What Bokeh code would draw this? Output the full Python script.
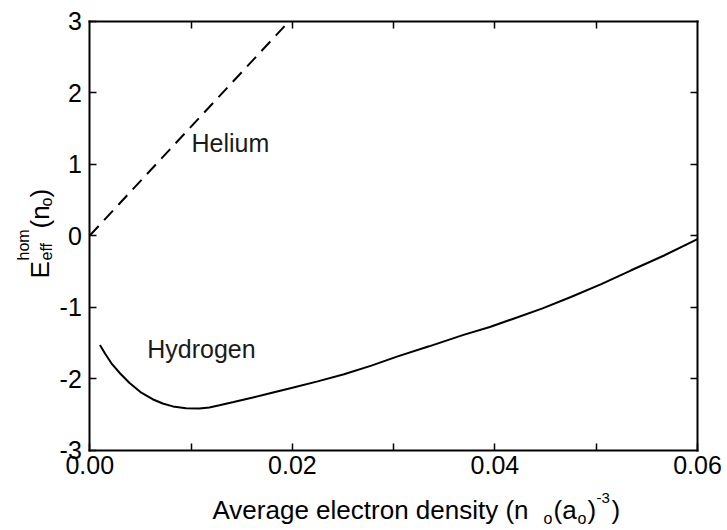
from bokeh.plotting import figure
from bokeh.models import Range1d, LinearAxis, FixedTicker, Label
from bokeh.embed import file_html
from bokeh.resources import INLINE
import math

# ---- data ----
helium_x = [0.0, 0.0197]
helium_y = [0.0, 3.0]

hydrogen_x = [0.0010, 0.0015, 0.0022, 0.0030, 0.0039, 0.0050, 0.0062, 0.0072,
              0.0082, 0.0095, 0.0108, 0.0118, 0.0128, 0.0142, 0.0160, 0.0180,
              0.0200, 0.0225, 0.0251, 0.0278, 0.0304, 0.0335, 0.0369, 0.0395,
              0.0419, 0.0447, 0.0475, 0.0505, 0.0534, 0.0567, 0.0600]
hydrogen_y = [-1.53, -1.65, -1.80, -1.93, -2.06, -2.19, -2.29, -2.35,
              -2.39, -2.415, -2.42, -2.405, -2.375, -2.33, -2.27, -2.20,
              -2.13, -2.04, -1.94, -1.82, -1.69, -1.55, -1.39, -1.28,
              -1.16, -1.02, -0.86, -0.68, -0.49, -0.28, -0.05]

x_major = [0.0, 0.02, 0.04, 0.06]
x_minor = [0.01, 0.03, 0.05]
x_labels = {0.0: "0.00", 0.02: "0.02", 0.04: "0.04", 0.06: "0.06"}
y_major = [-3, -2, -1, 0, 1, 2, 3]
y_labels = {v: str(v) for v in y_major}

FONT = "Liberation Sans"

# canvas size and where the plotting box sits on it (pixels)
W, H = 725, 528
BOX_L, BOX_R, BOX_T, BOX_B = 89.3, 697.0, 20.5, 449.5
XMIN, XMAX, YMIN, YMAX = 0.0, 0.06, -3.0, 3.0
sx = (BOX_R - BOX_L) / (XMAX - XMIN)
sy = (BOX_B - BOX_T) / (YMAX - YMIN)
x_range = Range1d(XMIN - BOX_L / sx, XMAX + (W - BOX_R) / sx)
y_range = Range1d(YMIN - (H - BOX_B) / sy, YMAX + BOX_T / sy)

p = figure(output_backend="svg", toolbar_location=None,
           width=W, height=H, min_border=0,
           x_range=x_range, y_range=y_range,
           x_axis_type=None, y_axis_type=None)
p.background_fill_color = "white"
p.border_fill_color = "white"
p.outline_line_color = None
p.xgrid.visible = False
p.ygrid.visible = False


def style(ax):
    ax.axis_line_color = "black"
    ax.axis_line_width = 2
    ax.axis_line_cap = "square"
    ax.major_tick_in = 7
    ax.major_tick_out = 0
    ax.minor_tick_in = 7
    ax.minor_tick_out = 0
    ax.major_tick_line_width = 1.5
    ax.minor_tick_line_width = 1.5
    ax.major_label_text_font = FONT
    ax.major_label_text_color = "black"
    ax.major_label_text_font_size = "25px"


xb = LinearAxis(ticker=FixedTicker(ticks=x_major, minor_ticks=x_minor),
                major_label_overrides=x_labels,
                fixed_location=YMIN, bounds=(XMIN, XMAX))
style(xb)
xb.major_label_standoff = 6
p.add_layout(xb, "below")

yl = LinearAxis(ticker=FixedTicker(ticks=y_major),
                major_label_overrides=y_labels,
                fixed_location=XMIN, bounds=(YMIN, YMAX))
style(yl)
yl.major_label_standoff = 8
p.add_layout(yl, "left")

xt = LinearAxis(ticker=FixedTicker(ticks=[], minor_ticks=x_minor + x_major[1:3]),
                fixed_location=YMAX, bounds=(XMIN, XMAX))
style(xt)
p.add_layout(xt, "above")

yr = LinearAxis(ticker=FixedTicker(ticks=[], minor_ticks=y_major[1:-1]),
                fixed_location=XMAX, bounds=(YMIN, YMAX))
style(yr)
p.add_layout(yr, "right")

p.line(hydrogen_x, hydrogen_y, line_color="black", line_width=2)
p.line(helium_x, helium_y, line_color="black", line_width=2, line_dash="13 8")

p.add_layout(Label(x=0.01004, y=1.095, text="Helium", text_font=FONT,
                   text_font_size="25px", text_color="#1a1a1a"))
p.add_layout(Label(x=0.00567, y=-1.786, text="Hydrogen", text_font=FONT,
                   text_font_size="25px", text_color="#1a1a1a"))


def piece(text, px, py, size, angle=0.0):
    # px, py: position on the canvas from its top-left corner
    p.add_layout(Label(x=px, y=H - py, x_units="screen", y_units="screen",
                       text=text, text_font=FONT, text_font_size=size,
                       angle=angle, text_align="left", text_baseline="alphabetic",
                       text_color="black"))


# x-axis title
piece("Average electron density (n", 212, 509, "26px")
piece("o", 543, 518, "16px")
piece("(a", 553, 509, "26px")
piece("o", 577, 518, "16px")
piece(")", 587, 509, "26px")
piece("-3", 596, 497, "15px")
piece(")", 611, 509, "26px")

# y-axis title (rotated)
r = math.pi / 2
piece("E", 39, 278, "26px", r)
piece("eff", 46, 260, "16px", r)
piece("hom", 23, 260, "16px", r)
piece("(n", 39, 228, "26px", r)
piece("o", 46, 206, "16px", r)
piece(")", 39, 197, "26px", r)

open("out.html", "w").write(file_html(p, INLINE))
